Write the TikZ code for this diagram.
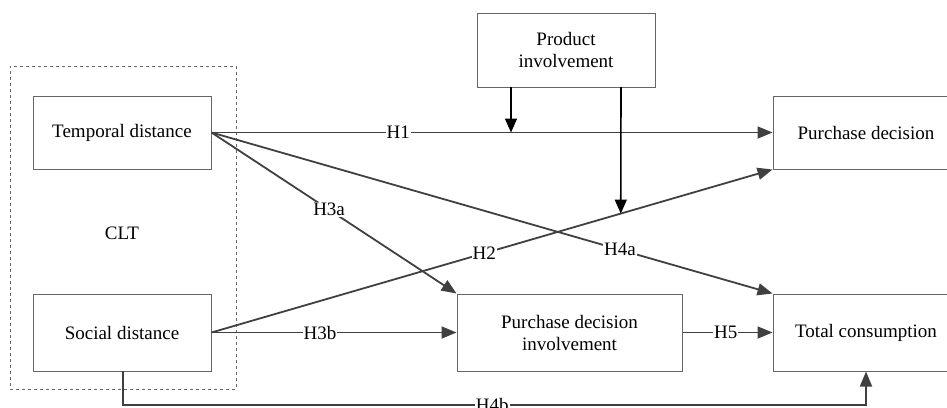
\documentclass[tikz,border=0pt]{standalone}
\usepackage{fontspec}
\setmainfont{Liberation Serif}
\usetikzlibrary{arrows.meta,calc}
\begin{document}
\begin{tikzpicture}[x=1pt,y=-1pt,
  box/.style={draw=black!60,line width=1pt,rectangle,inner sep=0pt,align=center,
    font=\fontsize{19}{22}\selectfont},
  conn/.style={draw=black!75,line width=1.8pt,-{Triangle[length=15pt,width=12pt]}},
  modarrow/.style={draw=black,line width=1.6pt,-{Triangle[length=14pt,width=12pt]}},
  lab/.style={fill=white,inner sep=1pt,font=\fontsize{19}{22}\selectfont,text=black}]
\useasboundingbox (0,0) rectangle (947,407);
\begin{scope}
\clip (0,0) rectangle (947,407);
% CLT dashed box
\node[draw=black!60,dashed,line width=0.9pt,minimum width=226pt,minimum height=323pt,inner sep=0pt] (clt) at (123,227.5) {};
\node[font=\fontsize{19}{22}\selectfont] (cltl) at (122,233) {CLT};
\node[box,minimum width=178pt,minimum height=73pt] (td) at (122,132.5) {Temporal distance};
\node[box,minimum width=178pt,minimum height=77pt] (sd) at (122,332.5) {Social distance};
\node[box,minimum width=178pt,minimum height=74pt] (pi) at (566,50) {Product\\involvement};
\node[box,minimum width=186pt,minimum height=73pt] (pd) at (866,132.5) {Purchase decision};
\node[box,minimum width=225pt,minimum height=77pt] (pdi) at (569.5,332.5) {Purchase decision\\involvement};
\node[box,minimum width=186pt,minimum height=77pt] (tc) at (866,332.5) {Total consumption};
% connectors
\draw[conn] (td.east) -- node[lab,pos=0.333] (h1) {H1} (pd.west);
\draw[conn] (td.east) -- node[lab,pos=0.48] (h3a) {H3a} (pdi.north west);
\draw[conn] (td.east) -- node[lab,pos=0.728] (h4a) {H4a} (tc.north west);
\draw[conn] (sd.east) -- node[lab,pos=0.486] (h2) {H2} (pd.south west);
\draw[conn] (sd.east) -- node[lab,pos=0.443] (h3b) {H3b} (pdi.west);
\draw[conn] (pdi.east) -- node[lab,pos=0.48] (h5) {H5} (tc.west);
\coordinate (sdb) at (123,371);
\coordinate (c1) at (123,405);
\coordinate (c2) at (866,405);
\draw[conn] (sdb) -- (c1) -- node[lab,pos=0.497] (h4b) {H4b} (c2) -- (tc.south);
% moderation arrows
\coordinate (m1) at (511,87);
\coordinate (m2) at (621,87);
\coordinate (h2pt) at ($(sd.east)!0.7295!(pd.south west)$);
\draw[modarrow] (m1) -- (m1 |- td.east);
\draw[modarrow] (m2) -- (h2pt);
\end{scope}
\end{tikzpicture}
\end{document}
